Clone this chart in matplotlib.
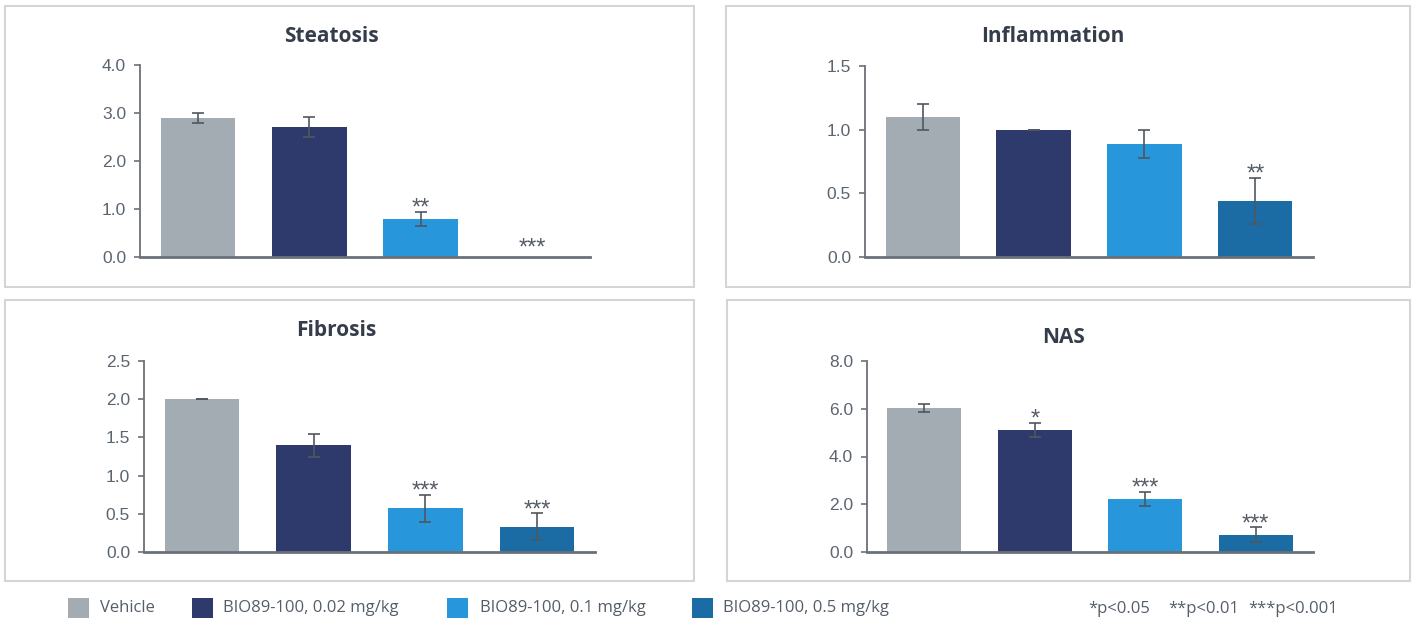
import numpy as np
import matplotlib.pyplot as plt
from matplotlib.patches import Rectangle

# groups / legend
groups = ['Vehicle', 'BIO89-100, 0.02 mg/kg', 'BIO89-100, 0.1 mg/kg', 'BIO89-100, 0.5 mg/kg']
colors = ['#A3ACB2', '#2E3A6C', '#2896DA', '#1B6BA5']

# values (mean, sem, significance)
steatosis = [2.9, 2.7, 0.79, 0.0]
steatosis_err = [0.11, 0.21, 0.15, 0.0]
steatosis_sig = ['', '', '**', '***']

inflammation = [1.10, 1.0, 0.89, 0.44]
inflammation_err = [0.10, 0.0, 0.11, 0.18]
inflammation_sig = ['', '', '', '**']

fibrosis = [2.0, 1.40, 0.57, 0.33]
fibrosis_err = [0.0, 0.15, 0.18, 0.175]
fibrosis_sig = ['', '', '***', '***']

nas = [6.02, 5.11, 2.23, 0.73]
nas_err = [0.16, 0.31, 0.30, 0.30]
nas_sig = ['', '*', '***', '***']

W, H = 1415, 626
fig = plt.figure(figsize=(W / 100, H / 100), dpi=100)
fig.patch.set_facecolor('white')

axis_col = '#6b7178'
tick_col = '#5b6570'
title_col = '#353c4a'


def px_axes(left, top, right, bottom):
    # pixel box -> figure fraction axes
    return fig.add_axes([left / W, 1 - bottom / H, (right - left) / W, (bottom - top) / H])


def panel_box(x0, y0, x1, y1):
    fig.patches.append(Rectangle((x0 / W, 1 - y1 / H), (x1 - x0) / W, (y1 - y0) / H,
                                 transform=fig.transFigure, fill=False,
                                 edgecolor='#d3d6d9', linewidth=1.5))


panel_box(5, 6, 694, 287)
panel_box(726, 6, 1410, 287)
panel_box(5, 300, 694, 581)
panel_box(727, 300, 1410, 581)

panels = [
    ('Steatosis', steatosis, steatosis_err, steatosis_sig, 4.0, 1.0, (140, 65, 590, 257), (331, 37)),
    ('Inflammation', inflammation, inflammation_err, inflammation_sig, 1.5, 0.5, (865, 66, 1313, 257), (1053, 37)),
    ('Fibrosis', fibrosis, fibrosis_err, fibrosis_sig, 2.5, 0.5, (144, 361, 595, 552), (336, 331)),
    ('NAS', nas, nas_err, nas_sig, 8.0, 2.0, (867, 361, 1313, 552), (1064, 337)),
]

x = np.arange(len(groups))
for title, vals, errs, sigs, ymax, step, box, tpos in panels:
    ax = px_axes(*box)
    ax.bar(x, vals, width=0.67, color=colors, zorder=2)
    v = np.array(vals)
    e = np.array(errs)
    keep = v > 0  # no whisker on an empty bar
    ax.errorbar(x[keep], v[keep], yerr=e[keep], fmt='none', ecolor='#50575e', elinewidth=1.2,
                capsize=4, capthick=1.2, zorder=3)
    for i, s in enumerate(sigs):
        if s:
            off = 2 if vals[i] == 0 else -2
            ax.annotate(s, (x[i], vals[i] + errs[i]), xytext=(0, off), textcoords='offset points',
                        ha='center', va='baseline', fontsize=17, color='#555c66',
                        family='Liberation Sans')
    ax.set_xlim(-0.52, 3.52)
    ax.set_ylim(0, ymax)
    ticks = np.arange(0, ymax + step / 2, step)
    ax.set_yticks(ticks)
    ax.set_yticklabels(['%.1f' % t for t in ticks],
                       family='Liberation Sans', fontsize=12.5, color=tick_col)
    ax.set_xticks([])
    for sp in ['top', 'right']:
        ax.spines[sp].set_visible(False)
    ax.spines['left'].set_color(axis_col)
    ax.spines['left'].set_linewidth(1.3)
    ax.spines['bottom'].set_color(axis_col)
    ax.spines['bottom'].set_linewidth(2)
    ax.tick_params(axis='y', direction='out', length=4, width=1.2, color=axis_col, pad=6)
    ax.set_facecolor('none')
    fig.text(tpos[0] / W, 1 - tpos[1] / H, title, ha='center', va='center',
             fontsize=15, fontweight='bold', family='Open Sans', color=title_col)

# legend row along the bottom
sq_x = [68, 192, 447, 692]
txt_x = [100, 223, 480, 723]
for c, g, sx, tx in zip(colors, groups, sq_x, txt_x):
    fig.patches.append(Rectangle((sx / W, 1 - 618 / H), 21 / W, 20 / H,
                                 transform=fig.transFigure, facecolor=c, edgecolor='none'))
    fig.text(tx / W, 1 - 608 / H, g, ha='left', va='center', fontsize=12,
             family='Open Sans', color='#555e68')

pvals = ['*p<0.05', '**p<0.01', '***p<0.001']
p_x = [1088, 1168, 1248]
for p, px in zip(pvals, p_x):
    fig.text(px / W, 1 - 609 / H, p, ha='left', va='center', fontsize=12,
             family='Open Sans', color='#555e68')

fig.savefig('out.png', dpi=100, facecolor='white')
